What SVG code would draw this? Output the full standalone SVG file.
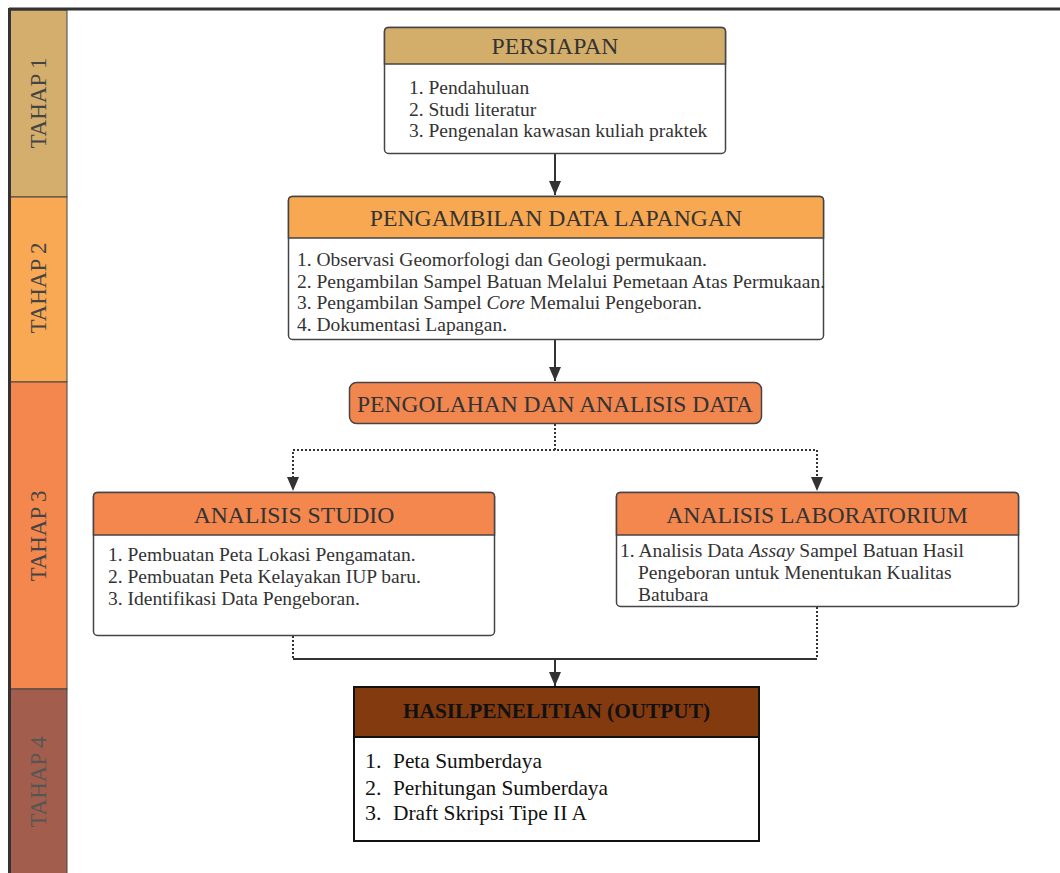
<svg xmlns="http://www.w3.org/2000/svg" width="1060" height="873" viewBox="0 0 1060 873">
<defs>
<marker id="ah" viewBox="0 0 14 12" refX="14" refY="6" markerWidth="14" markerHeight="12" markerUnits="userSpaceOnUse" orient="auto">
<path d="M0,0 L14,6 L0,12 Z" fill="#333"/>
</marker>
<style>
.t{font-family:"Liberation Serif","Times New Roman",serif;fill:#333}
.side{font-size:23px;fill:#444}
.hd{font-size:23.7px;text-anchor:middle}
.it{font-size:19.5px}
.ot{font-size:22px;fill:#111}
.box{fill:#fff;stroke:#444;stroke-width:1.5}
.solid{fill:none;stroke:#333;stroke-width:2}
.dot{fill:none;stroke:#333;stroke-width:2;stroke-dasharray:2 2}
</style>
</defs>
<rect width="1060" height="873" fill="#fff"/>
<g id="stages">
<rect x="10" y="10" width="57" height="187" fill="#D3AE6C" stroke="#444" stroke-width="1"/>
<rect x="10" y="197" width="57" height="185" fill="#F9A953" stroke="#444" stroke-width="1"/>
<rect x="10" y="382" width="57" height="307" fill="#F4874E" stroke="#444" stroke-width="1"/>
<rect x="10" y="689" width="57" height="190" fill="#A35D4C" stroke="#444" stroke-width="1"/>
<line x1="9" y1="9" x2="1060" y2="9" stroke="#333" stroke-width="3"/>
<line x1="9.5" y1="8" x2="9.5" y2="873" stroke="#333" stroke-width="3"/>
<text class="t side" transform="translate(46,103) rotate(-90)" text-anchor="middle">TAHAP 1</text>
<text class="t side" transform="translate(46,288) rotate(-90)" text-anchor="middle">TAHAP 2</text>
<text class="t side" transform="translate(46,536) rotate(-90)" text-anchor="middle">TAHAP 3</text>
<text class="t side" transform="translate(46,782) rotate(-90)" text-anchor="middle" style="fill:#555">TAHAP 4</text>
</g>
<g id="connectors">
<line class="solid" x1="555" y1="154" x2="555" y2="195" marker-end="url(#ah)"/>
<line class="solid" x1="555" y1="340" x2="555" y2="381" marker-end="url(#ah)"/>
<line class="dot" x1="555" y1="424" x2="555" y2="450"/>
<polyline class="dot" points="293,478 293,450 817,450 817,478"/>
<path d="M287,477 L299,477 L293,491 Z" fill="#333"/>
<path d="M811,477 L823,477 L817,491 Z" fill="#333"/>
<line class="dot" x1="293" y1="636" x2="293" y2="659"/>
<line class="dot" x1="817" y1="607" x2="817" y2="659"/>
<line class="solid" x1="293" y1="659" x2="817" y2="659"/>
<line class="solid" x1="555" y1="659" x2="555" y2="686" marker-end="url(#ah)"/>
</g>
<g id="persiapan">
<rect class="box" x="384.5" y="27.5" width="341" height="126" rx="4"/>
<path d="M384.5,64 L384.5,31.5 Q384.5,27.5 388.5,27.5 L721.5,27.5 Q725.5,27.5 725.5,31.5 L725.5,64 Z" fill="#D3AE6B" stroke="#444" stroke-width="1.5"/>
<text class="t hd" x="555" y="54">PERSIAPAN</text>
<text class="t it" x="409" y="94">1. Pendahuluan</text>
<text class="t it" x="409" y="116">2. Studi literatur</text>
<text class="t it" x="409" y="137">3. Pengenalan kawasan kuliah praktek</text>
</g>
<g id="pengambilan">
<rect class="box" x="288.5" y="196.5" width="535" height="143" rx="4"/>
<path d="M288.5,238 L288.5,200.5 Q288.5,196.5 292.5,196.5 L819.5,196.5 Q823.5,196.5 823.5,200.5 L823.5,238 Z" fill="#F9A852" stroke="#444" stroke-width="1.5"/>
<text class="t hd" x="556" y="226">PENGAMBILAN DATA LAPANGAN</text>
<text class="t it" x="297" y="266">1. Observasi Geomorfologi dan Geologi permukaan.</text>
<text class="t it" x="297" y="288">2. Pengambilan Sampel Batuan Melalui Pemetaan Atas Permukaan.</text>
<text class="t it" x="297" y="309">3. Pengambilan Sampel <tspan font-style="italic">Core</tspan> Memalui Pengeboran.</text>
<text class="t it" x="297" y="331">4. Dokumentasi Lapangan.</text>
</g>
<g id="pengolahan">
<rect x="349.5" y="382.5" width="412" height="41" rx="7" fill="#F2864F" stroke="#444" stroke-width="1.5"/>
<text class="t hd" x="555" y="412" textLength="396" lengthAdjust="spacingAndGlyphs">PENGOLAHAN DAN ANALISIS DATA</text>
</g>
<g id="studio">
<rect class="box" x="93.5" y="492.5" width="401" height="143" rx="4"/>
<path d="M93.5,535 L93.5,496.5 Q93.5,492.5 97.5,492.5 L490.5,492.5 Q494.5,492.5 494.5,496.5 L494.5,535 Z" fill="#F4874E" stroke="#444" stroke-width="1.5"/>
<text class="t hd" x="294" y="523">ANALISIS STUDIO</text>
<text class="t it" x="108" y="561">1. Pembuatan Peta Lokasi Pengamatan.</text>
<text class="t it" x="108" y="583">2. Pembuatan Peta Kelayakan IUP baru.</text>
<text class="t it" x="108" y="605">3. Identifikasi Data Pengeboran.</text>
</g>
<g id="laboratorium">
<rect class="box" x="616.5" y="492.5" width="402" height="114" rx="4"/>
<path d="M616.5,535 L616.5,496.5 Q616.5,492.5 620.5,492.5 L1014.5,492.5 Q1018.5,492.5 1018.5,496.5 L1018.5,535 Z" fill="#F4874E" stroke="#444" stroke-width="1.5"/>
<text class="t hd" x="817" y="523">ANALISIS LABORATORIUM</text>
<text class="t it" x="620" y="557">1. Analisis Data <tspan font-style="italic">Assay</tspan> Sampel Batuan Hasil</text>
<text class="t it" x="638" y="579">Pengeboran untuk Menentukan Kualitas</text>
<text class="t it" x="638" y="601">Batubara</text>
</g>
<g id="hasil">
<rect x="354" y="687" width="405" height="154" fill="#fff" stroke="#111" stroke-width="2"/>
<rect x="354" y="687" width="405" height="50" fill="#833A0F" stroke="#111" stroke-width="2"/>
<text class="t" x="403" y="718" font-size="21" font-weight="bold" style="fill:#111" textLength="307" lengthAdjust="spacingAndGlyphs">HASILPENELITIAN (OUTPUT)</text>
<text class="t ot" x="365" y="768">1.</text>
<text class="t ot" x="393" y="768" textLength="149" lengthAdjust="spacingAndGlyphs">Peta Sumberdaya</text>
<text class="t ot" x="365" y="795">2.</text>
<text class="t ot" x="393" y="795" textLength="215" lengthAdjust="spacingAndGlyphs">Perhitungan Sumberdaya</text>
<text class="t ot" x="365" y="820">3.</text>
<text class="t ot" x="393" y="820" textLength="194" lengthAdjust="spacingAndGlyphs">Draft Skripsi Tipe II A</text>
</g>
</svg>
